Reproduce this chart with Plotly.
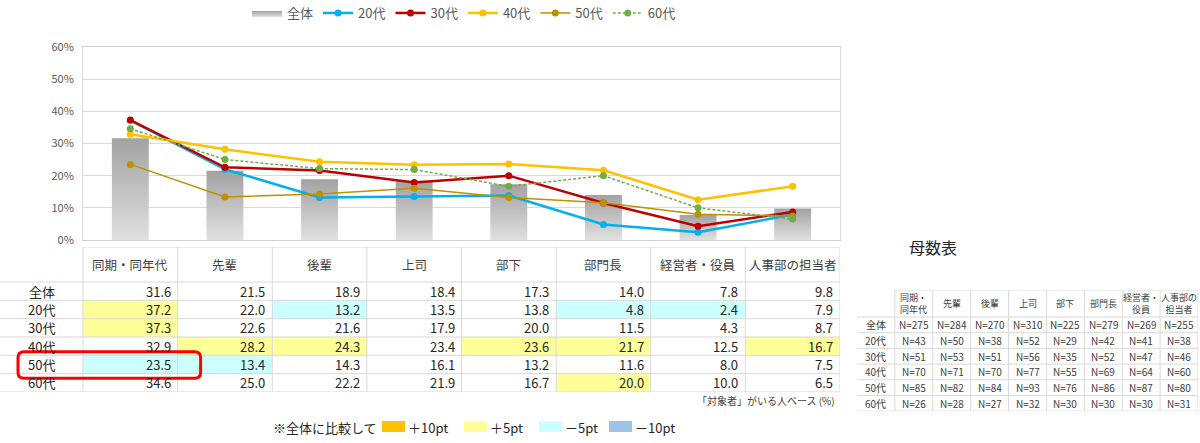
import plotly.graph_objects as go

W, H = 1200, 443
FONT = "Noto Sans CJK JP"

# ---------------- data ----------------
categories = ["同期・同年代", "先輩", "後輩", "上司", "部下", "部門長", "経営者・役員", "人事部の担当者"]
categories_2line = ["同期・<br>同年代", "先輩", "後輩", "上司", "部下", "部門長", "経営者・<br>役員", "人事部の<br>担当者"]
total_label = "全体"
age_groups = ["20代", "30代", "40代", "50代", "60代"]

total = [31.6, 21.5, 18.9, 18.4, 17.3, 14.0, 7.8, 9.8]
v20 = [37.2, 22.0, 13.2, 13.5, 13.8, 4.8, 2.4, 7.9]
v30 = [37.3, 22.6, 21.6, 17.9, 20.0, 11.5, 4.3, 8.7]
v40 = [32.9, 28.2, 24.3, 23.4, 23.6, 21.7, 12.5, 16.7]
v50 = [23.5, 13.4, 14.3, 16.1, 13.2, 11.6, 8.0, 7.5]
v60 = [34.6, 25.0, 22.2, 21.9, 16.7, 20.0, 10.0, 6.5]

y_ticks = [0, 10, 20, 30, 40, 50, 60]
y_ticktext = ["0%", "10%", "20%", "30%", "40%", "50%", "60%"]

n_total = [275, 284, 270, 310, 225, 279, 269, 255]
n20 = [43, 50, 38, 52, 29, 42, 41, 38]
n30 = [51, 53, 51, 56, 35, 52, 47, 46]
n40 = [70, 71, 70, 77, 55, 69, 64, 60]
n50 = [85, 82, 84, 93, 76, 86, 87, 80]
n60 = [26, 28, 27, 32, 30, 30, 30, 31]

legend_items = ["＋10pt", "＋5pt", "－5pt", "－10pt"]
legend_colors = ["#FFC000", "#FFFF99", "#CCFFFF", "#9DC3E6"]

note_text = "「対象者」がいる人ベース (%)"
compare_text = "※全体に比較して"
n_title = "母数表"
highlight_row = "50代"

# ---------------- helpers ----------------
def px(x):
    return x / W


def py(y):
    return 1 - y / H


GRID = "#d9d9d9"

series = [
    ("20代", v20, "#00B0F0", 2.5, "solid"),
    ("30代", v30, "#C00000", 2.5, "solid"),
    ("40代", v40, "#FFC000", 2.5, "solid"),
    ("50代", v50, "#BF9000", 1.5, "solid"),
    ("60代", v60, "#70AD47", 1.5, "3px,2px"),
]

fig = go.Figure()

# bars (gradient filled) for 全体
half = 0.195
for i, v in enumerate(total):
    fig.add_trace(go.Scatter(
        x=[i - half, i + half, i + half, i - half, i - half],
        y=[0, 0, v, v, 0],
        mode="lines", fill="toself",
        line=dict(width=0, color="#b0b0b0"),
        fillgradient=dict(type="vertical",
                          colorscale=[[0, "#e0e0e0"], [1, "#a2a2a2"]]),
        name=total_label, legendgroup="total", showlegend=(i == 0),
        legendrank=1, hoverinfo="skip",
    ))

for k, (name, vals, col, lw, dash) in enumerate(series):
    fig.add_trace(go.Scatter(
        x=list(range(len(categories))), y=vals, mode="lines+markers",
        name=name, line=dict(color=col, width=lw, dash=dash),
        marker=dict(color=col, size=7), legendrank=2 + k,
    ))

shapes = []
annotations = []

# ---------------- main table (axes x2/y2) ----------------
def diff_code(v, base):
    d = round(v - base, 1)
    if d > 10:
        return 1
    if d > 5:
        return 2
    if d < -10:
        return 4
    if d < -5:
        return 3
    return 0

age_rows = [v20, v30, v40, v50, v60]
all_rows = [total] + age_rows
row_labels = [total_label] + age_groups
ncol = len(categories)
nrow = len(row_labels)

tbl_top, tbl_head_px, tbl_row_px = 247, 35, 18.33
tbl_bottom = tbl_top + tbl_head_px + tbl_row_px * nrow
col_w_px = (840 - 83) / ncol
lab_u = 83 / col_w_px
hdr_u = tbl_head_px / tbl_row_px

z = [[0] * ncol] + [[diff_code(r[j], total[j]) for j in range(ncol)] for r in age_rows]
cs = [[0.0, "white"], [0.2, "white"],
      [0.2, legend_colors[0]], [0.4, legend_colors[0]],
      [0.4, legend_colors[1]], [0.6, legend_colors[1]],
      [0.6, legend_colors[2]], [0.8, legend_colors[2]],
      [0.8, legend_colors[3]], [1.0, legend_colors[3]]]
fig.add_trace(go.Heatmap(
    x=list(range(ncol + 1)), y=list(range(nrow + 1)), z=z,
    zmin=-0.5, zmax=4.5, colorscale=cs, showscale=False, hoverinfo="skip",
    xaxis="x2", yaxis="y2", showlegend=False,
))

# grid lines
for i in range(nrow + 1):
    shapes.append(dict(type="line", xref="x2", yref="y2", x0=-lab_u, x1=ncol, y0=i, y1=i,
                       line=dict(color=GRID, width=1)))
shapes.append(dict(type="line", xref="x2", yref="y2", x0=0, x1=ncol, y0=-hdr_u, y1=-hdr_u,
                   line=dict(color=GRID, width=1)))
for j in range(ncol + 1):
    shapes.append(dict(type="line", xref="x2", yref="y2", x0=j, x1=j, y0=-hdr_u, y1=nrow,
                       line=dict(color=GRID, width=1)))

for j, c in enumerate(categories):
    annotations.append(dict(x=j + 0.5, y=-hdr_u / 2, xref="x2", yref="y2", text=c,
                            showarrow=False, xanchor="center", yanchor="middle",
                            font=dict(family=FONT, size=12.5, color="#404040")))
for i, lab in enumerate(row_labels):
    annotations.append(dict(x=-lab_u / 2, y=i + 0.5, xref="x2", yref="y2", text=lab,
                            showarrow=False, xanchor="center", yanchor="middle",
                            font=dict(family=FONT, size=13, color="#262626")))
    for j in range(ncol):
        annotations.append(dict(x=j + 1, y=i + 0.5, xref="x2", yref="y2",
                                text=f"{all_rows[i][j]:.1f}", showarrow=False,
                                xanchor="right", yanchor="middle", xshift=-5,
                                font=dict(family=FONT, size=13, color="#262626")))

# red rounded highlight around 50代 row
hl = row_labels.index(highlight_row)
ux, uy = col_w_px, tbl_row_px
bx0 = -lab_u + 18 / ux
bx1 = 1 + 23 / ux
by0 = hl - 3.5 / uy
by1 = hl + 1 + 4.5 / uy
rx, ry = 6 / ux, 6 / uy
path = (f"M{bx0 + rx},{by0} L{bx1 - rx},{by0} Q{bx1},{by0} {bx1},{by0 + ry} "
        f"L{bx1},{by1 - ry} Q{bx1},{by1} {bx1 - rx},{by1} "
        f"L{bx0 + rx},{by1} Q{bx0},{by1} {bx0},{by1 - ry} "
        f"L{bx0},{by0 + ry} Q{bx0},{by0} {bx0 + rx},{by0} Z")
shapes.append(dict(type="path", xref="x2", yref="y2", path=path,
                   line=dict(color="#FF0000", width=3), fillcolor="rgba(0,0,0,0)"))

# ---------------- N table (axes x3/y3) ----------------
n_rows = [n_total, n20, n30, n40, n50, n60]
n_top, n_head_px, n_row_px = 290, 27, 15.7
n_bottom = n_top + n_head_px + n_row_px * nrow
n_hdr_u = n_head_px / n_row_px

for i in range(nrow + 1):
    shapes.append(dict(type="line", xref="x3", yref="y3", x0=-1, x1=ncol, y0=i, y1=i,
                       line=dict(color=GRID, width=1)))
shapes.append(dict(type="line", xref="x3", yref="y3", x0=0, x1=ncol, y0=-n_hdr_u, y1=-n_hdr_u,
                   line=dict(color=GRID, width=1)))
for j in range(ncol + 1):
    shapes.append(dict(type="line", xref="x3", yref="y3", x0=j, x1=j, y0=-n_hdr_u, y1=nrow,
                       line=dict(color=GRID, width=1)))
for j, c in enumerate(categories_2line):
    annotations.append(dict(x=j + 0.5, y=-n_hdr_u / 2, xref="x3", yref="y3", text=c,
                            showarrow=False, xanchor="center", yanchor="middle",
                            font=dict(family=FONT, size=9, color="#404040")))
for i, lab in enumerate(row_labels):
    annotations.append(dict(x=-0.5, y=i + 0.5, xref="x3", yref="y3", text=lab,
                            showarrow=False, xanchor="center", yanchor="middle",
                            font=dict(family=FONT, size=10, color="#404040")))
    for j in range(ncol):
        annotations.append(dict(x=j + 0.5, y=i + 0.5, xref="x3", yref="y3",
                                text=f"N={n_rows[i][j]}", showarrow=False,
                                xanchor="center", yanchor="middle",
                                font=dict(family=FONT, size=10, color="#404040")))

# ---------------- other annotations ----------------
annotations += [
    dict(x=px(837), y=py(400), xref="paper", yref="paper", text=note_text,
         showarrow=False, xanchor="right", yanchor="middle",
         font=dict(family=FONT, size=10, color="#404040")),
    dict(x=px(933), y=py(247), xref="paper", yref="paper", text=n_title,
         showarrow=False, xanchor="center", yanchor="middle",
         font=dict(family=FONT, size=16, color="#262626")),
    dict(x=px(271), y=py(427), xref="paper", yref="paper", text=compare_text,
         showarrow=False, xanchor="left", yanchor="middle",
         font=dict(family=FONT, size=13, color="#262626")),
]
sw_x = [382, 464, 539, 609]
for k, (lab, colr) in enumerate(zip(legend_items, legend_colors)):
    x0 = sw_x[k]
    shapes.append(dict(type="rect", xref="paper", yref="paper",
                       x0=px(x0), x1=px(x0 + 23), y0=py(432), y1=py(421),
                       fillcolor=colr, line=dict(width=0)))
    annotations.append(dict(x=px(x0 + 24), y=py(427), xref="paper", yref="paper",
                            text=lab, showarrow=False, xanchor="left", yanchor="middle",
                            font=dict(family=FONT, size=13, color="#262626")))

hidden = dict(visible=False, showgrid=False, zeroline=False, fixedrange=True)

fig.update_layout(
    width=W, height=H,
    margin=dict(l=0, r=0, t=0, b=0, autoexpand=False),
    paper_bgcolor="white", plot_bgcolor="white",
    font=dict(family=FONT, color="#595959"),
    xaxis=dict(domain=[px(83), px(840)], range=[-0.5, ncol - 0.5],
               showticklabels=False, showgrid=False, zeroline=False,
               showline=True, mirror=True, linecolor="#d0d0d0", ticks=""),
    yaxis=dict(domain=[py(240), py(47)], range=[0, 60], tickvals=y_ticks,
               ticktext=y_ticktext, gridcolor=GRID, zeroline=False,
               showline=True, mirror=True, linecolor=GRID, ticklabelstandoff=6,
               tickfont=dict(family=FONT, size=11, color="#595959")),
    xaxis2=dict(domain=[0, px(840)], range=[-lab_u, ncol], anchor="y2", **hidden),
    yaxis2=dict(domain=[py(tbl_bottom), py(tbl_top)], range=[nrow, -hdr_u], anchor="x2", **hidden),
    xaxis3=dict(domain=[px(857), px(1198)], range=[-1, ncol], anchor="y3", **hidden),
    yaxis3=dict(domain=[py(n_bottom), py(n_top)], range=[nrow, -n_hdr_u], anchor="x3", **hidden),
    legend=dict(orientation="h", x=px(464), xanchor="center", y=py(13), yanchor="middle",
                font=dict(family=FONT, size=13, color="#595959"),
                bgcolor="rgba(0,0,0,0)", traceorder="normal"),
    showlegend=True,
    annotations=annotations, shapes=shapes,
)

fig.write_html("out.html", config={"displayModeBar": False},
               post_script="document.body.style.margin='0px';")
